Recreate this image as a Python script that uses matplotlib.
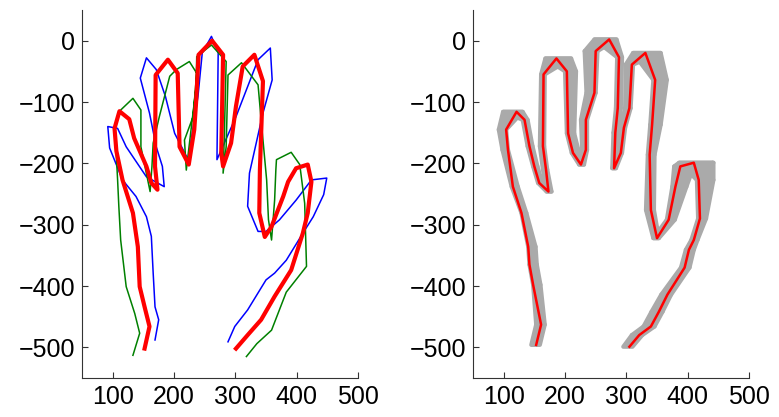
import matplotlib.pyplot as plt
import numpy as np

plt.rcParams["font.family"] = ["Liberation Sans", "DejaVu Sans"]

# left panel: mean hand (red) and two variants (blue, green)
mean_x = [152, 160, 152, 144, 141, 133, 116, 106, 103, 111, 127, 135, 155, 163, 173, 169, 170, 190, 206, 209,
          224, 233, 236, 240, 262, 280, 277, 280, 293, 301, 312, 331, 345, 340, 339, 348, 359, 378, 386, 399,
          418, 424, 418, 410, 391, 364, 342, 320, 301]
mean_y = [-502, -466, -434, -401, -336, -281, -227, -180, -143, -115, -128, -159, -205, -232, -243, -205, -56, -31, -53, -173,
          -202, -145, -100, -23, 0, -23, -183, -205, -167, -107, -42, -23, -66, -211, -281, -320, -303, -254, -230, -208,
          -202, -230, -281, -314, -374, -417, -455, -480, -502]

blue_x = [169, 175, 169, 166, 163, 155, 138, 116, 95, 92, 108, 122, 155, 184, 181, 171, 160, 145, 155, 171,
          186, 201, 223, 239, 246, 261, 272, 270, 301, 337, 357, 360, 345, 323, 320, 337, 350, 372, 399, 424,
          449, 444, 427, 410, 383, 364, 350, 320, 299, 288]
blue_y = [-488, -455, -434, -379, -319, -287, -254, -227, -175, -140, -143, -173, -222, -238, -205, -173, -118, -61, -28, -47,
          -91, -151, -194, -91, -20, 7, -20, -194, -124, -31, -12, -64, -118, -216, -270, -311, -311, -292, -260, -227,
          -224, -251, -287, -314, -358, -379, -390, -439, -466, -491]

green_x = [133, 144, 136, 122, 113, 110, 108, 106, 103, 111, 133, 146, 146, 161, 164, 166, 176, 193, 204, 225,
           237, 231, 217, 220, 226, 236, 237, 261, 285, 282, 280, 285, 288, 310, 337, 343, 351, 354, 359, 364,
           366, 367, 391, 405, 413, 416, 383, 359, 335, 318]
green_y = [-513, -477, -445, -401, -325, -270, -227, -189, -148, -115, -94, -113, -173, -246, -205, -167, -124, -58, -47, -34,
           -53, -124, -162, -211, -160, -75, -26, -7, -34, -156, -216, -173, -56, -36, -72, -140, -227, -292, -325, -260,
           -211, -194, -182, -202, -265, -368, -410, -472, -494, -515]

# right panel: fitted hand (red) and the spread of the fit (grey band, x offsets)
fit_x = [153, 161, 148, 142, 140, 129, 115, 107, 104, 121, 134, 142, 150, 158, 173, 169, 164, 165, 186, 203,
         205, 213, 226, 234, 234, 248, 250, 272, 288, 286, 282, 280, 291, 296, 305, 309, 331, 347, 342, 338,
         340, 350, 369, 380, 388, 410, 418, 420, 410, 402, 395, 367, 353, 340, 321, 305]
fit_y = [-496, -463, -398, -365, -336, -281, -238, -178, -145, -116, -129, -172, -205, -232, -246, -210, -172, -55, -29, -50,
         -151, -183, -202, -178, -129, -85, -17, 2, -27, -110, -150, -208, -183, -142, -110, -39, -20, -64, -137, -186,
         -276, -322, -292, -238, -205, -199, -227, -290, -325, -341, -370, -414, -442, -466, -480, -499]
band_lo = [-8, -8, 0, 0, 0, 0, -2, -9, -12, -22, -3, -3, -2, -2, -3, -5, -5, -4, -18, -3,
           -2, -2, -3, -6, -8, -13, -18, -24, -3, -3, -3, -3, -5, -6, -7, -10, -20, -3, -3, -3,
           -8, -6, -3, -5, -10, -24, -3, -3, -4, -5, -6, -10, -12, -12, -12, -10]
band_hi = [6, 6, 12, 12, 12, 8, 8, 0, 0, 10, 5, 5, 5, 5, 5, 2, 2, 2, 24, 15,
           10, 10, 5, 2, 2, 2, 3, 12, 5, 5, 5, 3, 2, 2, 2, 2, 25, 19, 14, 8,
           5, 3, 10, 18, 22, 32, 24, 10, 6, 8, 8, 6, 6, 6, 5, 5]

xticks = [100, 200, 300, 400, 500]
yticks = [-500, -400, -300, -200, -100, 0]

fig = plt.figure(figsize=(7.79, 4.17), dpi=100)
ax1 = fig.add_axes([0.1053, 0.0935, 0.3543, 0.8825])
ax2 = fig.add_axes([0.6072, 0.0935, 0.3543, 0.8825])

ax1.plot(blue_x, blue_y, color="#0000ff", lw=1.1)
ax1.plot(green_x, green_y, color="#008000", lw=1.1)
ax1.plot(mean_x, mean_y, color="#ff0000", lw=3)

# grey band: each segment swept between its two offsets
fx, fy = np.array(fit_x, float), np.array(fit_y, float)
lo, hi = np.array(band_lo, float), np.array(band_hi, float)
for i in range(len(fx) - 1):
    qx = [fx[i] + lo[i], fx[i + 1] + lo[i + 1], fx[i + 1] + hi[i + 1], fx[i] + hi[i]]
    qy = [fy[i], fy[i + 1], fy[i + 1], fy[i]]
    ax2.fill(qx, qy, color="#aaaaaa", lw=3, joinstyle="round")
ax2.plot(fit_x, fit_y, color="#ff0000", lw=1.8)

for ax in (ax1, ax2):
    ax.set_xlim(50, 500)
    ax.set_ylim(-550, 50)
    ax.set_xticks(xticks)
    ax.set_yticks(yticks)
    ax.spines["top"].set_visible(False)
    ax.spines["right"].set_visible(False)
    for s in ("left", "bottom"):
        ax.spines[s].set_color("#333333")
        ax.spines[s].set_linewidth(0.8)
    ax.tick_params(direction="in", length=4, width=0.8, color="#333333", labelsize=18, pad=5)

fig.savefig("out.png", dpi=100)
